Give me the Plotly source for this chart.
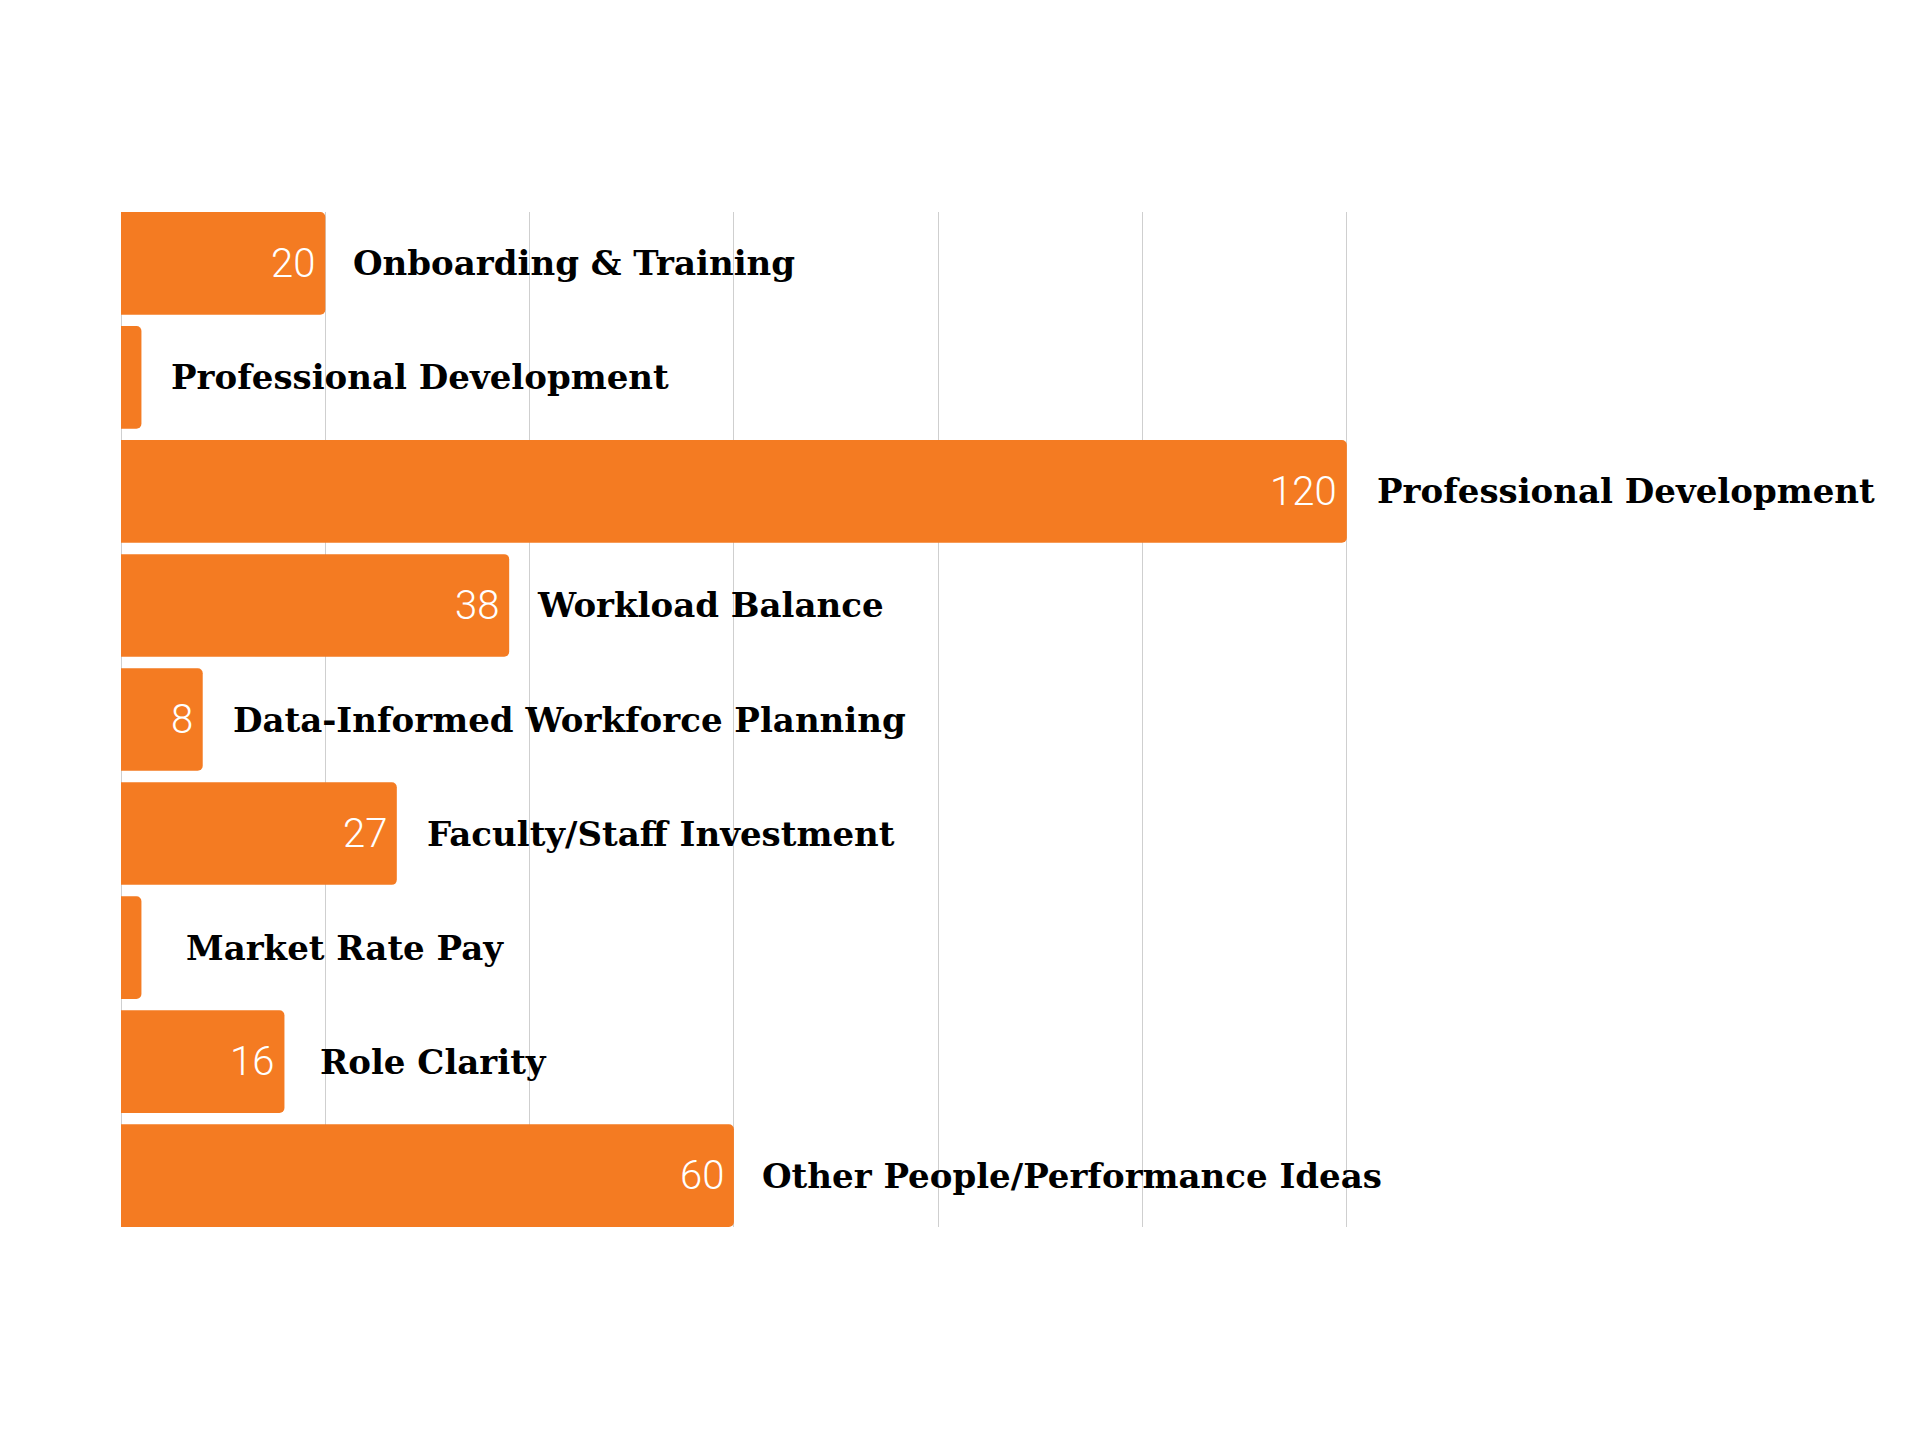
import plotly.graph_objects as go

# Kategorien und Werte (von oben nach unten)
categories = ["Onboarding & Training", "Professional Development", "Professional Development",
              "Workload Balance", "Data-Informed Workforce Planning", "Faculty/Staff Investment",
              "Market Rate Pay", "Role Clarity", "Other People/Performance Ideas"]
values = [20, 2, 120, 38, 8, 27, 2, 16, 60]
value_labels = ["20", "", "120", "38", "8", "27", "", "16", "60"]
x_ticks = [0, 20, 40, 60, 80, 100, 120]

ORANGE = "#F47B22"
rows = list(range(len(categories)))
# Abstand Label zum Balkenende (px)
label_gap = [26, 28, 28, 26, 28, 28, 43, 34, 26]

fig = go.Figure()
fig.add_trace(go.Bar(x=values, y=rows, orientation="h",
                     marker=dict(color=ORANGE, line=dict(width=0), cornerradius=5),
                     width=0.9, hoverinfo="skip"))

# Werte in den Balken
for i, lab in enumerate(value_labels):
    if lab:
        fig.add_annotation(x=values[i], y=rows[i], text=lab, showarrow=False,
                           xanchor="right", xshift=-8,
                           font=dict(family="Roboto", size=40, color="white", weight=300))

# Kategorienamen rechts neben den Balken
for i, cat in enumerate(categories):
    fig.add_annotation(x=values[i], y=rows[i], text="<b>%s</b>" % cat, showarrow=False,
                       xanchor="left", xshift=label_gap[i],
                       font=dict(family="DejaVu Serif", size=34, color="black"))

fig.update_xaxes(range=[0, 130], tickvals=x_ticks, showticklabels=False, showgrid=True,
                 gridcolor="#cfcfcf", gridwidth=1, zeroline=True, zerolinecolor="#cfcfcf",
                 zerolinewidth=1, showline=False)
fig.update_yaxes(showticklabels=False, showgrid=False, zeroline=False,
                 range=[len(categories) - 0.55, -0.45])

fig.update_layout(width=1920, height=1440, plot_bgcolor="white", paper_bgcolor="white",
                  margin=dict(l=113, r=479, t=204, b=221), showlegend=False, bargap=0.1)

fig.write_html("out.html")
